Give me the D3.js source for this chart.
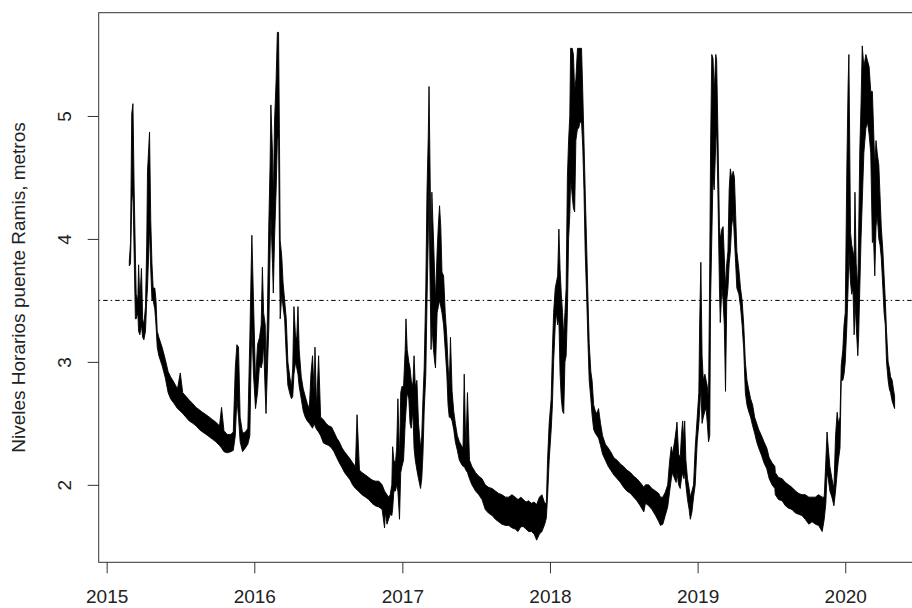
<!DOCTYPE html>
<html>
<head>
<meta charset="utf-8">
<script src="https://cdn.jsdelivr.net/npm/d3@7"></script>
<style>
  html, body { margin: 0; padding: 0; background: #ffffff; }
  svg { display: block; }
  text { font-family: "Liberation Sans", Arial, sans-serif; }
</style>
</head>
<body>
<div id="chart"></div>
<script>
// ---- Data: hourly river levels at Puente Ramis, summarised as low/high envelope ----
// day offsets counted from 2015-01-01 (UTC)
const dayOffset = [
  56,59,62,65,68,71,73,77,79,82,86,89,92,96,99,101,106,109,112,115,119,122,125,129,137,145,152,158,167,175,182,188,196,204,213,221,229,237,246,254,262,270,279,284,290,298,307,313,318,322,326,330,336,343,349,354,357,359,363,
  368,373,378,382,385,388,392,394,397,401,404,406,410,412,415,419,422,425,427,429,433,436,440,444,448,453,457,460,463,467,470,473,476,481,486,491,496,501,505,509,513,515,519,524,529,536,542,549,556,562,569,575,582,588,595,602,608,615,619,625,631,640,648,656,664,673,681,687,
  689,693,697,701,705,707,710,714,717,720,724,727,730,734,738,740,743,747,750,753,757,760,763,767,771,776,779,782,785,789,792,795,797,799,802,804,808,811,813,817,820,823,826,829,833,837,841,844,847,850,854,858,862,867,872,877,881,884,888,892,897,903,912,920,928,936,944,953,961,969,977,986,994,1002,
  1010,1017,1024,1030,1037,1043,1050,1057,1063,1070,1076,1083,1087,1090,1094,1099,1102,1105,1109,1112,1115,1118,1121,1124,1127,1130,1133,1136,1139,1142,1145,1147,1151,1154,1157,1160,1164,1167,1170,1174,1177,1180,1183,1187,1190,1193,1197,1200,1204,1208,1212,1216,1221,1226,1233,1240,1246,1254,1262,1270,1278,1286,1295,1303,1311,1319,1328,
  1332,1340,1348,1357,1365,1369,1375,1381,1387,1392,1396,1399,1404,1408,1410,1414,1418,1421,1424,1427,1429,1432,1436,1440,1443,1447,1451,1455,1460,1464,1466,1469,1472,1475,1479,1482,1485,1488,1491,1493,1496,1499,1502,1506,1508,1511,1515,1517,1521,1524,1527,1530,1533,1536,1539,1542,1545,1549,1552,1555,1558,1563,1567,1571,1575,1579,1583,1587,1592,1597,1602,1607,1612,1619,1625,1632,1638,1645,1652,
  1653,1661,1670,1678,1686,1694,1703,1711,1719,1727,1736,1744,1752,1760,1769,1774,1778,1781,1784,1788,1793,1798,1802,1806,1809,1813,1816,1820,1823,1826,1830,1833,1835,1839,1842,1845,1848,1850,1853,1857,1859,1862,1865,1868,1872,1877,1881,1885,1889,1893,1896,1899,1902,1905,1909,1912,1915,1919,1922,1925,1928,1932,1935,1938,1942,1945,1948
];
// lowest level in each step (metres)
const levelLow = [
  3.78,3.80,4.30,4.40,3.87,3.35,3.35,3.40,3.25,3.22,3.30,3.20,3.18,3.25,3.50,3.60,4.10,3.75,3.50,3.50,3.43,3.30,3.12,3.05,2.97,2.87,2.75,2.70,2.66,2.62,2.60,2.58,2.55,2.52,2.50,2.48,2.45,2.43,2.41,2.39,2.37,2.35,2.32,2.30,2.27,2.26,2.27,2.28,2.40,2.70,2.55,2.35,2.27,2.30,2.33,2.40,3.00,3.30,2.90,
  2.62,2.75,2.98,2.95,3.00,3.15,2.75,2.58,2.90,3.30,3.90,4.20,3.80,3.56,4.00,4.40,4.80,4.85,4.00,3.35,3.55,3.45,3.35,3.05,2.81,2.74,2.70,2.72,2.90,3.00,2.95,2.90,2.80,2.70,2.60,2.55,2.52,2.50,2.48,2.46,2.50,2.48,2.45,2.43,2.40,2.34,2.33,2.32,2.30,2.27,2.22,2.18,2.14,2.10,2.07,2.04,2.00,1.97,1.96,1.94,1.92,1.90,1.88,1.85,1.83,1.82,1.80,1.65,
  1.78,1.68,1.72,1.76,1.75,1.80,1.95,1.95,2.00,1.95,1.72,2.10,2.15,2.20,2.50,2.60,2.75,2.70,2.50,2.46,2.60,2.30,2.20,2.12,2.05,1.97,2.05,2.25,2.60,2.90,3.50,4.00,4.50,3.80,3.10,3.30,3.10,3.00,2.95,3.40,3.45,3.50,3.45,3.40,3.30,3.10,2.90,2.65,2.55,2.55,2.52,2.45,2.35,2.28,2.20,2.17,2.15,2.15,2.12,2.10,2.05,2.00,1.95,1.92,1.88,1.80,1.77,1.75,1.72,1.70,1.68,1.67,1.67,1.65,
  1.64,1.62,1.66,1.66,1.64,1.62,1.62,1.60,1.55,1.60,1.62,1.68,1.73,1.90,2.20,2.45,2.65,3.00,3.30,3.40,3.30,3.35,2.90,2.70,2.60,2.58,3.00,3.05,3.40,4.00,4.20,4.50,4.35,4.25,4.22,4.80,4.90,4.90,4.95,4.95,4.75,4.40,3.90,3.50,3.15,2.85,2.70,2.57,2.45,2.42,2.40,2.38,2.32,2.25,2.20,2.15,2.12,2.08,2.05,2.02,1.98,1.95,1.93,1.90,1.87,1.83,1.78,
  1.85,1.83,1.80,1.75,1.70,1.67,1.68,1.75,1.82,1.95,2.05,2.10,2.05,2.02,2.10,2.00,1.97,2.05,2.10,2.05,2.10,2.00,1.88,1.80,1.72,1.78,1.90,2.00,2.35,2.50,2.60,2.80,2.50,2.55,2.60,2.62,2.50,2.35,2.40,3.50,4.00,4.50,4.40,4.80,4.90,4.40,3.60,3.32,3.60,3.50,3.30,2.76,3.50,3.60,3.80,3.90,4.10,4.20,4.00,3.80,3.60,3.55,3.45,3.30,3.10,2.75,2.65,2.60,2.55,2.48,2.42,2.35,2.30,2.24,2.18,2.13,2.05,2.00,1.97,
  1.92,1.88,1.87,1.83,1.81,1.80,1.77,1.76,1.75,1.72,1.68,1.70,1.68,1.67,1.62,1.72,1.85,2.10,2.05,1.95,1.90,1.83,1.95,2.10,2.20,2.30,2.85,2.85,2.90,3.00,3.30,3.60,3.90,3.65,3.55,3.60,3.22,3.50,3.30,3.05,3.20,3.60,4.00,4.30,4.70,4.90,4.95,4.85,4.70,3.97,4.00,3.70,4.10,4.20,4.00,3.95,3.85,3.60,3.40,3.30,3.00,2.85,2.78,2.75,2.68,2.65,2.62
];
// highest level in each step (metres)
const levelHigh = [
  3.82,3.97,5.02,5.10,4.40,3.87,3.55,3.50,3.79,3.50,3.76,3.35,3.30,3.45,3.95,4.55,4.87,4.15,3.80,3.60,3.60,3.50,3.25,3.20,3.12,3.02,2.92,2.88,2.83,2.78,2.91,2.75,2.72,2.69,2.66,2.63,2.61,2.59,2.57,2.55,2.53,2.51,2.48,2.63,2.44,2.41,2.41,2.43,2.95,3.14,3.12,2.55,2.42,2.43,2.46,3.20,3.72,4.03,3.50,
  2.84,3.14,3.20,3.30,3.77,3.40,3.30,2.90,3.30,4.14,4.60,5.09,4.70,4.30,4.95,5.30,5.68,5.68,4.90,3.99,3.85,3.65,3.50,3.35,3.00,2.87,2.80,2.95,3.45,3.20,3.20,3.45,3.10,2.88,2.78,2.72,2.66,2.62,2.90,3.05,2.75,3.12,2.62,3.05,2.55,2.53,2.50,2.48,2.47,2.43,2.38,2.35,2.30,2.27,2.24,2.21,2.18,2.15,2.57,2.12,2.10,2.08,2.06,2.04,2.03,2.03,2.00,1.95,
  1.94,1.92,1.90,1.92,2.00,2.31,2.20,2.18,2.30,2.70,2.20,2.75,2.80,2.80,3.10,3.35,3.10,3.00,2.95,2.85,2.80,3.05,2.80,2.85,2.50,2.30,2.40,2.70,2.95,3.60,4.40,4.82,5.24,4.70,3.90,4.38,4.00,3.70,3.50,3.90,4.11,4.27,4.10,3.73,3.70,3.40,3.20,2.97,2.80,3.20,2.76,2.60,2.50,2.40,2.35,2.32,2.30,2.90,2.27,2.75,2.20,2.15,2.10,2.07,2.05,2.00,1.98,1.97,1.95,1.93,1.92,1.90,1.90,1.92,
  1.90,1.88,1.90,1.88,1.86,1.87,1.85,1.86,1.84,1.90,1.92,1.85,1.85,2.20,2.50,2.70,3.10,3.40,3.60,3.65,3.70,4.08,3.75,3.55,3.40,3.20,3.40,3.60,4.50,4.80,5.00,5.55,5.55,5.50,5.20,5.30,5.55,5.55,5.55,5.55,5.20,4.80,4.40,3.90,3.50,3.15,2.92,2.85,2.65,2.60,2.58,2.62,2.50,2.40,2.33,2.30,2.27,2.22,2.20,2.17,2.15,2.12,2.10,2.07,2.05,2.02,1.98,
  2.00,2.00,1.97,1.95,1.93,1.90,1.90,1.94,2.00,2.20,2.31,2.25,2.35,2.45,2.51,2.25,2.22,2.40,2.52,2.35,2.52,2.20,2.05,1.97,1.90,1.95,2.00,2.30,2.55,2.75,3.30,3.81,3.05,2.85,2.90,2.85,2.80,2.70,3.80,4.73,5.50,5.47,5.20,5.50,5.45,4.90,4.10,4.00,4.08,4.10,3.85,3.60,3.80,3.90,4.40,4.57,4.50,4.55,4.50,4.20,3.90,3.75,3.60,3.50,3.30,3.00,2.85,2.78,2.70,2.65,2.55,2.50,2.45,2.40,2.35,2.30,2.22,2.18,2.15,
  2.10,2.06,2.05,2.02,2.00,1.98,1.95,1.93,1.92,1.92,1.90,1.90,1.90,1.92,1.90,1.90,2.20,2.43,2.30,2.15,2.05,1.97,2.40,2.59,2.50,2.55,2.97,3.10,3.30,3.40,4.60,5.25,5.50,4.05,3.95,3.90,3.85,4.38,3.80,3.60,4.00,4.73,5.10,5.57,5.40,5.50,5.45,5.40,5.20,5.20,4.90,4.60,4.80,4.70,4.60,4.35,4.10,3.90,3.70,3.50,3.25,3.00,2.95,2.88,2.85,2.78,2.72
];
const yTickValues = [2, 3, 4, 5];
const xTickYears = [2015, 2016, 2017, 2018, 2019, 2020];
const thresholdLevel = 3.5;
const yTitle = "Niveles Horarios puente Ramis, metros";

// ---- Layout ----
const W = 912, H = 608;
const plotLeft = 98.7, plotTop = 12.7, plotBottom = 562.3;
const pxPerDay = 147.74 / 365.25;
const startUTC = Date.UTC(2015, 0, 1);
const toDate = d => new Date(startUTC + d * 864e5);

const n = Math.min(dayOffset.length, levelLow.length, levelHigh.length);
const data = d3.range(n).map(i => ({ date: toDate(dayOffset[i]), lo: levelLow[i], hi: levelHigh[i] }));

// R-style 4% axis extension
const dMin = d3.min(dayOffset), dMax = d3.max(dayOffset);
const ext = 0.04 * (dMax - dMin);
const domX = [toDate(dMin - ext), toDate(dMax + ext)];
const plotRight = plotLeft + (dMax - dMin + 2 * ext) * pxPerDay;

const x = d3.scaleUtc().domain(domX).range([plotLeft, plotRight]);
const y = d3.scaleLinear().domain([1.37, 5.84]).range([plotBottom, plotTop]);

const svg = d3.select("#chart").append("svg")
  .attr("width", W).attr("height", H)
  .attr("viewBox", `0 0 ${W} ${H}`);

svg.append("rect").attr("width", W).attr("height", H).attr("fill", "#ffffff");

svg.append("defs").append("clipPath").attr("id", "plotclip")
  .append("rect").attr("x", plotLeft).attr("y", plotTop)
  .attr("width", plotRight - plotLeft).attr("height", plotBottom - plotTop);

// threshold line
svg.append("line")
  .attr("x1", plotLeft).attr("x2", plotRight)
  .attr("y1", y(thresholdLevel)).attr("y2", y(thresholdLevel))
  .attr("stroke", "#000").attr("stroke-width", 1)
  .attr("stroke-dasharray", "1.5,3,4.5,3");

// series envelope
const area = d3.area()
  .x(d => x(d.date))
  .y0(d => y(d.lo))
  .y1(d => y(d.hi));

svg.append("path")
  .datum(data)
  .attr("d", area)
  .attr("fill", "#000")
  .attr("stroke", "#000")
  .attr("stroke-width", 0.9)
  .attr("stroke-linejoin", "round")
  .attr("clip-path", "url(#plotclip)");

// frame
svg.append("rect")
  .attr("x", plotLeft).attr("y", plotTop)
  .attr("width", plotRight - plotLeft).attr("height", plotBottom - plotTop)
  .attr("fill", "none").attr("stroke", "#333").attr("stroke-width", 1);

// x axis
const xAxis = d3.axisBottom(x)
  .tickValues(xTickYears.map(yr => new Date(Date.UTC(yr, 0, 1))))
  .tickFormat(d3.utcFormat("%Y"))
  .tickSize(11);
const gx = svg.append("g").attr("transform", `translate(0,${plotBottom})`).call(xAxis);
gx.select(".domain").remove();
gx.selectAll(".tick line").attr("stroke", "#333");
gx.selectAll(".tick text")
  .attr("y", 41).attr("dy", null)
  .attr("fill", "#222")
  .style("font-size", "19px")
  .style("font-family", "'Liberation Sans', Arial, sans-serif");

// y axis
const yAxis = d3.axisLeft(y).tickValues(yTickValues).tickFormat(d3.format("d")).tickSize(11);
const gy = svg.append("g").attr("transform", `translate(${plotLeft},0)`).call(yAxis);
gy.select(".domain").remove();
gy.selectAll(".tick line").attr("stroke", "#333");
gy.selectAll(".tick text")
  .attr("x", null).attr("dy", null)
  .attr("transform", "translate(-27.5,0) rotate(-90)")
  .attr("text-anchor", "middle")
  .attr("fill", "#222")
  .style("font-size", "19px")
  .style("font-family", "'Liberation Sans', Arial, sans-serif");

// y title
svg.append("text")
  .attr("transform", `translate(25,${(plotTop + plotBottom) / 2}) rotate(-90)`)
  .attr("text-anchor", "middle")
  .attr("fill", "#222")
  .style("font-size", "19px")
  .text(yTitle);
</script>
</body>
</html>
